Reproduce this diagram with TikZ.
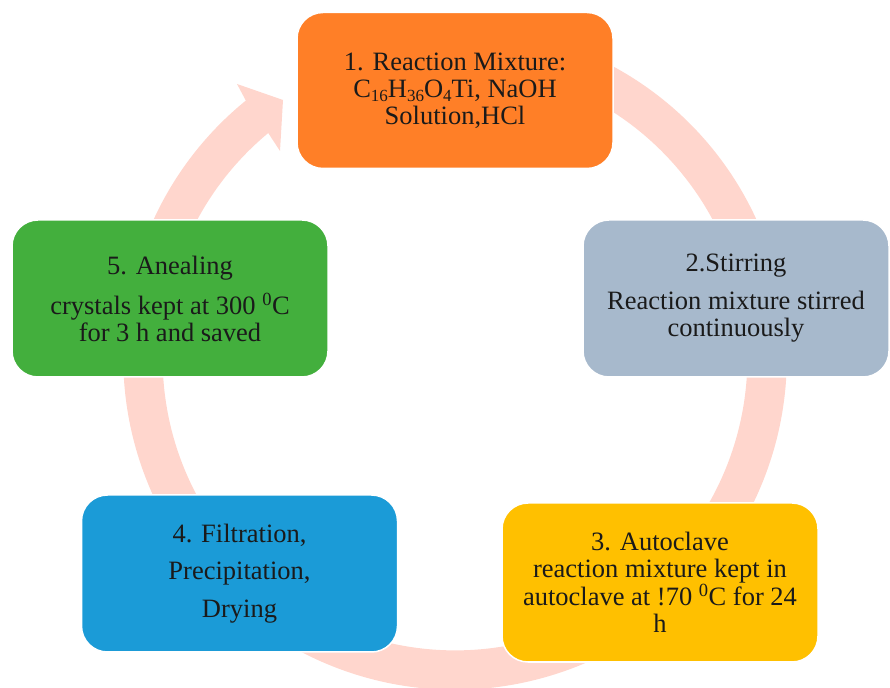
\documentclass[tikz,border=0pt]{standalone}
\usepackage{fontspec}
\setmainfont{Liberation Serif}
\definecolor{ringc}{RGB}{255,214,205}
\definecolor{c1}{RGB}{255,127,39}
\definecolor{c2}{RGB}{167,185,204}
\definecolor{c3}{RGB}{255,192,0}
\definecolor{c4}{RGB}{27,155,215}
\definecolor{c5}{RGB}{67,175,61}
\definecolor{txt}{RGB}{26,26,26}
\begin{document}
\begin{tikzpicture}[x=1pt,y=1pt,
  stepbox/.style={rectangle, rounded corners=26pt, draw=white, line width=1.5pt,
    minimum width=316pt, minimum height=157pt, align=center, text=txt,
    font=\fontsize{26.5}{27}\selectfont, inner sep=0pt}]
\useasboundingbox (0,0) rectangle (890,687);
\coordinate (C) at (455,329);
% circular arrow
\fill[ringc] ([shift={(C)}]110:331.7) arc[start angle=110, end angle=-230.9, radius=331.7]
  -- (237,603) -- (283,587) -- (280,536)
  -- ([shift={(C)}]129.7:292.4) arc[start angle=-230.3, end angle=110, radius=292.4] -- cycle;
% boxes
\node[stepbox, fill=c1, minimum height=156pt] (n1) at (455,596.5)
  {1. Reaction Mixture:\\ C\raisebox{-4pt}{\fontsize{17}{17}\selectfont 16}H\raisebox{-4pt}{\fontsize{17}{17}\selectfont 36}O\raisebox{-4pt}{\fontsize{17}{17}\selectfont 4}Ti, NaOH\\ Solution,HCl};
\node[stepbox, fill=c2, minimum width=306pt] (n2) at (736,388.5)
  {2.Stirring\\[11pt] Reaction mixture stirred\\ continuously};
\node[stepbox, fill=c3, minimum height=159pt] (n3) at (660,104.5)
  {3. Autoclave\\ reaction mixture kept in\\ autoclave at !70 \textsuperscript{0}C for 24\\ h};
\node[stepbox, fill=c4] (n4) at (239.5,113.5)
  {4. Filtration,\\[10.5pt] Precipitation,\\[10.5pt] Drying};
\node[stepbox, fill=c5] (n5) at (170,388.5)
  {5. Anealing\\[12pt] crystals kept at 300 \textsuperscript{0}C\\ for 3 h and saved};
\end{tikzpicture}
\end{document}
